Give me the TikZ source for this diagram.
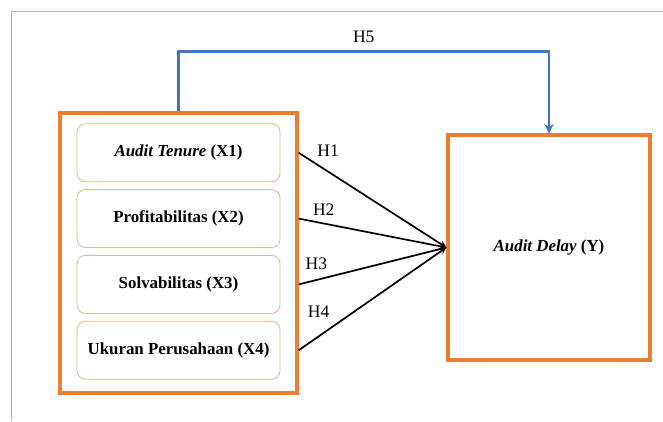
\documentclass[tikz,border=0pt]{standalone}
\usepackage{fontspec}
\setmainfont{Liberation Serif}
\usetikzlibrary{shapes,arrows,positioning,calc}
\definecolor{frameOrange}{HTML}{ED7D31}
\definecolor{lightOrange}{HTML}{F4B183}
\definecolor{linkBlue}{HTML}{4472C4}

\begin{document}
\begin{tikzpicture}[
            node distance=0.175cm,
            outerbox/.style={
                    rectangle,
                    draw=frameOrange,
                    line width=2.4pt,
                    minimum width=5.925cm,
                    minimum height=7cm
                },
            varbox/.style={
                    rectangle,
                    rounded corners=6pt,
                    draw=lightOrange,
                    line width=0.6pt,
                    minimum width=5.075cm,
                    minimum height=1.45cm,
                    align=center,
                    font=\fontsize{12}{14}\selectfont\bfseries
                },
            depbox/.style={
                    rectangle,
                    draw=frameOrange,
                    line width=2.4pt,
                    minimum width=5.05cm,
                    minimum height=5.625cm,
                    align=center,
                    font=\fontsize{12}{14}\selectfont\bfseries
                },
            hlabel/.style={
                    font=\fontsize{12.5}{14}\selectfont
                },
            arrow/.style={
                    ->,
                    >=stealth,
                    line width=1.2pt
                },
            bluearrow/.style={
                    ->,
                    >=stealth,
                    draw=linkBlue,
                    line width=1.9pt
                }
        ]

        \useasboundingbox (0,0) rectangle (16.575,10.525);

        % Frame of the page
        \draw[frameOrange!75, line width=0.6pt] (0.275,0) |- (16.575,10.25);

        % Independent variables
        \node[outerbox] (frame) at (4.4625,4.2) {};

        \node[varbox, below=0.3cm of frame.north] (x1) {\textit{Audit Tenure} (X1)};
        \node[varbox, below=of x1] (x2) {Profitabilitas (X2)};
        \node[varbox, below=of x2] (x3) {Solvabilitas (X3)};
        \node[varbox, below=of x3] (x4) {Ukuran Perusahaan (X4)};

        % Dependent variable
        \node[depbox] (y) at (13.725,4.3375) {\textit{Audit Delay} (Y)};

        % Hypotheses
        \draw[arrow] (x1 -| frame.east) -- node[hlabel, pos=0.2, above=7pt] (h1) {H1} (y.west);
        \draw[arrow] (x2 -| frame.east) -- node[hlabel, pos=0.17, above=2pt] (h2) {H2} (y.west);
        \draw[arrow] (x3 -| frame.east) -- node[hlabel, pos=0.12, above=3.7pt] (h3) {H3} (y.west);
        \draw[arrow] (x4 -| frame.east) -- node[hlabel, pos=0.135, above=9.3pt] (h4) {H4} (y.west);

        \draw[bluearrow] (frame.north) -- ++(0,1.5) -| node[hlabel, pos=0.25, above=2pt] (h5) {H5} (y.north);

    \end{tikzpicture}
\end{document}
